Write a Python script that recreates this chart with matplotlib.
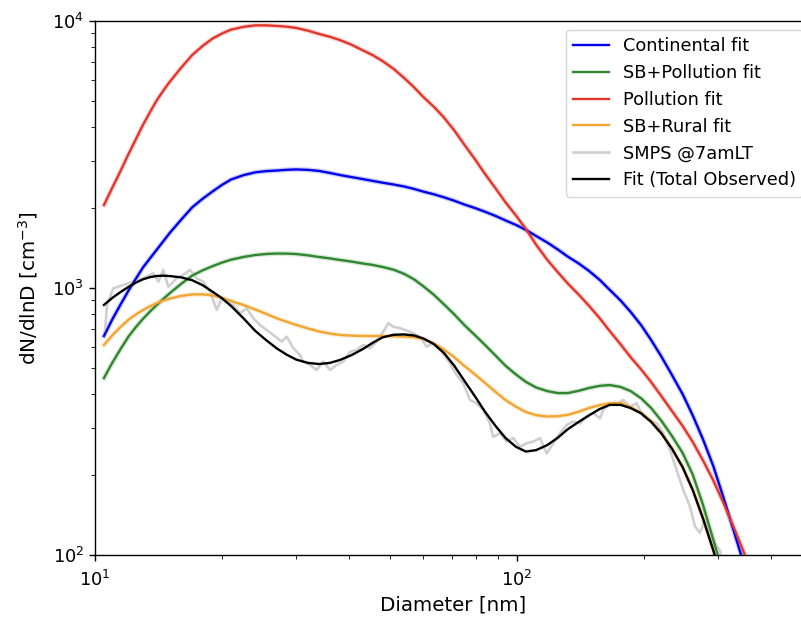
import numpy as np
import matplotlib
matplotlib.use('Agg')
from matplotlib import pyplot as plt

diam = [10.5, 11, 11.5, 12, 12.5, 13, 13.5, 14, 14.5, 15, 16, 17, 18, 19, 20, 21, 22.5, 24, 25.5,
        27, 28.5, 30, 32, 34, 36, 38, 40.5, 43, 45.5, 48, 51, 54, 57, 60, 63.5, 67, 71, 75, 79.5,
        84, 89, 94, 99.5, 105, 111, 118, 125, 132, 140, 148, 157, 166, 176, 186, 197, 208, 220,
        233, 247, 261, 276, 292, 309, 327, 346, 366]

continental = [661, 765, 868, 977, 1084, 1195, 1291, 1390, 1493, 1600, 1802, 2005, 2160, 2300,
               2433, 2548, 2647, 2712, 2740, 2754, 2771, 2780, 2769, 2743, 2698, 2650, 2603, 2560,
               2518, 2480, 2441, 2400, 2350, 2296, 2244, 2188, 2123, 2055, 1993, 1930, 1861, 1790,
               1722, 1650, 1566, 1480, 1393, 1310, 1236, 1160, 1073, 983, 898, 813, 725, 638, 553,
               472, 400, 333, 271, 215, 163, 122, 91, 68]
sb_pollution = [460, 526, 591, 657, 714, 767, 816, 863, 908, 953, 1036, 1113, 1165, 1207, 1245,
                1276, 1307, 1329, 1341, 1346, 1345, 1340, 1325, 1306, 1291, 1274, 1256, 1236, 1220,
                1199, 1171, 1130, 1078, 1015, 944, 871, 797, 727, 666, 612, 558, 511, 474, 445,
                424, 411, 404, 404, 412, 422, 430, 433, 426, 411, 386, 355, 318, 279, 241, 200,
                154, 114, 84, 60, 41, 28]
pollution = [2046, 2382, 2748, 3170, 3610, 4090, 4558, 5040, 5468, 5890, 6682, 7460, 8070, 8600,
             8978, 9280, 9510, 9630, 9630, 9580, 9520, 9415, 9193, 8940, 8728, 8490, 8154, 7780,
             7450, 7080, 6619, 6120, 5649, 5190, 4776, 4365, 3895, 3445, 3036, 2673, 2360, 2090,
             1866, 1663, 1453, 1274, 1145, 1039, 945, 859, 771, 689, 615, 550, 495, 444, 393,
             346, 304, 265, 226, 190, 156, 126, 101, 80]
sb_rural = [612, 666, 715, 760, 796, 827, 854, 877, 897, 912, 934, 946, 947, 938, 919, 894, 863,
            830, 799, 769, 747, 727, 705, 687, 675, 667, 663, 661, 661, 661, 660, 658, 654, 644,
            620, 589, 551, 511, 475, 441, 408, 380, 359, 343, 334, 330, 331, 335, 344, 355, 364,
            370, 371, 358, 341, 317, 286, 251, 214, 176, 137, 104, 77, 55, 37, 25]
total_fit = [864, 919, 966, 1009, 1047, 1078, 1098, 1109, 1112, 1109, 1096, 1069, 1024, 968, 915,
             857, 769, 690, 636, 593, 562, 539, 524, 519, 524, 537, 560, 589, 623, 653, 668, 670,
             664, 647, 617, 573, 512, 450, 393, 344, 304, 274, 254, 244, 247, 258, 275, 296, 315,
             333, 352, 365, 365, 355, 339, 315, 285, 250, 213, 175, 137, 104, 77, 55, 37, 25]

# SMPS measurement at 7 am LT
smps_d = [10.56, 10.68, 11.05, 11.67, 12.33, 13.02, 13.75, 14.13, 14.52, 14.92, 15.62, 16.19, 16.80,
          17.42, 18.05, 18.73, 19.43, 19.96, 20.51, 21.27, 22.06, 22.88, 23.72, 24.60, 25.52, 26.45,
          27.70, 28.47, 29.51, 30.60, 31.16, 32.32, 33.52, 34.75, 36.06, 37.40, 38.77, 40.21, 41.70,
          43.24, 44.85, 46.51, 48.22, 49.55, 50.92, 52.81, 55.78, 58.90, 61.09, 63.34, 66.89, 69.37,
          71.95, 74.6, 77.36, 80.24, 83.2, 86.3, 87.86, 91.14, 94.54, 98.0, 101.6, 105.4, 109.3,
          113.4, 117.6, 121.9, 126.5, 131.2, 136.0, 141.1, 146.3, 151.6, 157.3, 160.1, 166.1, 172.3,
          178.6, 185.3, 192.1, 199.3, 206.7, 214.4, 222.2, 230.5, 239.0, 247.9, 257.0, 264.2, 271.4,
          279.0, 289.8, 302.7, 311]
smps_n = [686, 864, 997, 1026, 1056, 1087, 1135, 1056, 1168, 1011, 1087, 1119, 1168, 1087, 1056,
          969, 827, 915, 889, 864, 804, 839, 770, 727, 696, 667, 630, 657, 595, 561, 530, 515, 493,
          530, 493, 515, 530, 577, 586, 612, 595, 630, 686, 738, 716, 707, 686, 657, 603, 621, 569,
          522, 472, 440, 381, 370, 349, 311, 277, 286, 266, 274, 254, 262, 266, 274, 240, 262, 286,
          307, 316, 311, 330, 340, 325, 349, 370, 365, 381, 359, 370, 330, 320, 311, 286, 247, 208,
          175, 152, 128, 121, 135, 114, 104, 84]

fs = 12.8
plt.rcParams['font.size'] = fs
plt.rcParams['axes.linewidth'] = 1.0
plt.rcParams['xtick.major.size'] = 4.5
plt.rcParams['ytick.major.size'] = 4.5
plt.rcParams['xtick.minor.size'] = 2.6
plt.rcParams['ytick.minor.size'] = 2.6
plt.rcParams['xtick.major.width'] = 1.0
plt.rcParams['ytick.major.width'] = 1.0
plt.rcParams['xtick.major.pad'] = 6

fig = plt.figure(figsize=(8.01, 6.17), dpi=100)
ax = fig.add_axes([0.1186, 0.1005, 0.895, 0.8655])

c_blue = '#0000ee'
c_green = '#2f862f'
c_red = '#e5352b'
c_orange = '#f2a531'
c_gray = '#cfcfcf'
lw = 1.7

# faint halo behind the fits
for y, c in [(continental, c_blue), (sb_pollution, c_green), (pollution, c_red), (sb_rural, c_orange)]:
    ax.plot(diam, y, color=c, lw=3.6, alpha=0.18, zorder=1)

ax.plot(smps_d, smps_n, color=c_gray, lw=1.9, zorder=2, label='SMPS @7amLT')
ax.plot(diam, continental, color=c_blue, lw=lw, zorder=3, label='Continental fit')
ax.plot(diam, sb_pollution, color=c_green, lw=lw, zorder=3, label='SB+Pollution fit')
ax.plot(diam, pollution, color=c_red, lw=lw, zorder=3, label='Pollution fit')
ax.plot(diam, sb_rural, color=c_orange, lw=lw, zorder=3, label='SB+Rural fit')
ax.plot(diam, total_fit, color='black', lw=lw, zorder=4, label='Fit (Total Observed)')

ax.set_xscale('log')
ax.set_yscale('log')
ax.set_xlim(10, 500)
ax.set_ylim(100, 10000)
ax.set_xlabel('Diameter [nm]', fontsize=14.3)
ax.set_ylabel('dN/dlnD [cm$^{-3}$]', fontsize=14.3, labelpad=9)

handles, labels = ax.get_legend_handles_labels()
order = ['Continental fit', 'SB+Pollution fit', 'Pollution fit', 'SB+Rural fit', 'SMPS @7amLT', 'Fit (Total Observed)']
h = [handles[labels.index(o)] for o in order]
ax.legend(h, order, loc='upper right', fontsize=fs)

fig.savefig('out.png', dpi=100)
